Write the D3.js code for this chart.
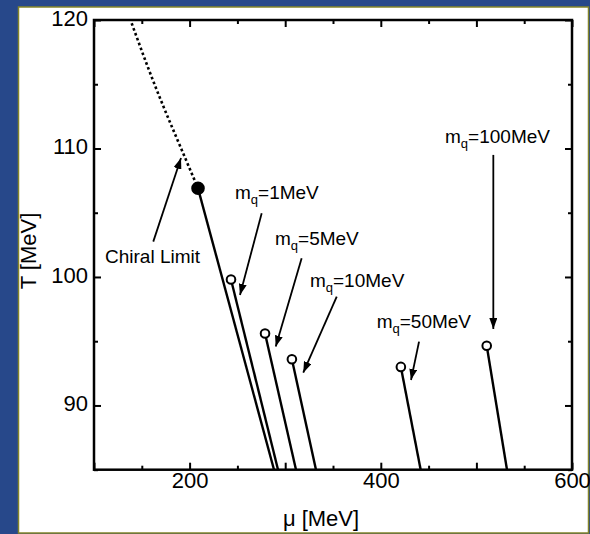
<!DOCTYPE html>
<html>
<head>
<meta charset="utf-8">
<script src="https://cdn.jsdelivr.net/npm/d3@7"></script>
<style>
  body { margin: 0; padding: 0; background: #fff; }
  svg { display: block; font-family: "Liberation Sans", Arial, Helvetica, sans-serif; }
</style>
</head>
<body>
<svg id="chart"></svg>
<script>
// critical line in the chiral limit (dotted, 2nd order part)
var chiralMu = [139.4, 156, 173, 190, 208.8];
var chiralT  = [119.75, 116.4, 113.2, 110.2, 106.9];

// first order lines: critical end point -> lower edge of plot
var massLabels = ["0", "1", "5", "10", "50", "100"];
var cepMu = [208.8, 243.3, 278.9, 307, 421, 510.8];
var cepT  = [106.9, 99.8, 95.6, 93.6, 93.0, 94.65];
var endMu = [288.3, 292.5, 311.3, 332.2, 441.7, 532];
var endT  = [85, 85, 85, 85, 85, 85];

// annotation arrows (tail -> head) and text anchors, in data units
var noteText   = ["Chiral Limit", "1MeV", "5MeV", "10MeV", "50MeV", "100MeV"];
var noteTextMu = [111.5, 247.5, 289.3, 325.9, 395.7, 467.2];
var noteTextT  = [101.1, 106.1, 102.5, 99.25, 96.0, 110.4];
var arrowFromMu = [162, 275.4, 317.2, 353.9, 440, 517.7];
var arrowFromT  = [102.75, 104.96, 101.45, 98.47, 94.97, 109.5];
var arrowToMu   = [191, 252.7, 290.1, 318.9, 431.6, 517.7];
var arrowToT    = [109.26, 98.6, 94.58, 92.55, 91.98, 95.95];

// ticks
var muMajor = [100, 200, 300, 400, 500, 600];
var muMinor = [150, 250, 350, 450, 550];
var muLabels = [200, 400, 600];
var tMajor = [90, 100, 110, 120];
var tMinor = [85, 95, 105, 115];

var W = 590, H = 534;
var plotL = 94, plotR = 572, plotT = 20, plotB = 469.7;

var svg = d3.select("#chart").attr("width", W).attr("height", H);

// slide frame
svg.append("rect").attr("x", 0).attr("y", 0).attr("width", W).attr("height", H).attr("fill", "#27488a");
svg.append("rect").attr("x", 18.5).attr("y", 7).attr("width", 570).attr("height", 526)
    .attr("fill", "#fff").attr("stroke", "#85852a").attr("stroke-width", 1.5);

var x = d3.scaleLinear().domain([100, 600]).range([plotL, plotR]);
var y = d3.scaleLinear().domain([85, 120]).range([plotB, plotT]);

var fs = 22;

function styleAxis(g) {
  g.select(".domain").remove();
  g.selectAll(".tick line").attr("stroke", "#000").attr("stroke-width", 2);
}

// bottom axis
var gb = svg.append("g").attr("transform", "translate(0," + plotB + ")")
    .call(d3.axisBottom(x).tickValues(muMajor).tickSize(-7)
      .tickFormat(function(d) { return muLabels.indexOf(d) >= 0 ? d : ""; }));
styleAxis(gb);
gb.attr("font-size", fs).attr("font-family", null);
gb.selectAll("text").attr("y", 18).attr("dy", null).attr("fill", "#000");
svg.append("g").attr("transform", "translate(0," + plotB + ")")
    .call(d3.axisBottom(x).tickValues(muMinor).tickSize(-4).tickFormat(""))
    .call(styleAxis);

// top axis
svg.append("g").attr("transform", "translate(0," + plotT + ")")
    .call(d3.axisTop(x).tickValues(muMajor).tickSize(-7).tickFormat(""))
    .call(styleAxis);
svg.append("g").attr("transform", "translate(0," + plotT + ")")
    .call(d3.axisTop(x).tickValues(muMinor).tickSize(-4).tickFormat(""))
    .call(styleAxis);

// left axis
var gl = svg.append("g").attr("transform", "translate(" + plotL + ",0)")
    .call(d3.axisLeft(y).tickValues(tMajor).tickSize(-7).tickPadding(6));
styleAxis(gl);
gl.attr("font-size", fs).attr("font-family", null);
gl.selectAll("text").attr("dy", "0.24em").attr("fill", "#000");
svg.append("g").attr("transform", "translate(" + plotL + ",0)")
    .call(d3.axisLeft(y).tickValues(tMinor).tickSize(-4).tickFormat(""))
    .call(styleAxis);

// right axis
svg.append("g").attr("transform", "translate(" + plotR + ",0)")
    .call(d3.axisRight(y).tickValues(tMajor).tickSize(-7).tickFormat(""))
    .call(styleAxis);
svg.append("g").attr("transform", "translate(" + plotR + ",0)")
    .call(d3.axisRight(y).tickValues(tMinor).tickSize(-4).tickFormat(""))
    .call(styleAxis);

// frame
svg.append("rect").attr("x", plotL).attr("y", plotT)
    .attr("width", plotR - plotL).attr("height", plotB - plotT)
    .attr("fill", "none").attr("stroke", "#000").attr("stroke-width", 2.5);

// axis titles
svg.append("text").attr("transform", "translate(36,251) rotate(-90)")
    .attr("text-anchor", "middle").attr("font-size", fs).text("T [MeV]");
svg.append("text").attr("x", 321).attr("y", 526)
    .attr("text-anchor", "middle").attr("font-size", fs).text("\u03bc [MeV]");

// dotted chiral line
var chiralData = chiralMu.map(function(m, i) { return { mu: m, t: chiralT[i] }; });
var line = d3.line().x(function(d) { return x(d.mu); }).y(function(d) { return y(d.t); })
    .curve(d3.curveNatural);
svg.append("path").datum(chiralData)
    .attr("fill", "none").attr("stroke", "#000").attr("stroke-width", 2.6)
    .attr("stroke-dasharray", "2.6,2.6").attr("d", line);

// first order lines
var lines = massLabels.map(function(m, i) {
  return { m: m, mu0: cepMu[i], t0: cepT[i], mu1: endMu[i], t1: endT[i] };
});
svg.selectAll(".fo").data(lines).enter().append("line")
    .attr("x1", function(d) { return x(d.mu0); }).attr("y1", function(d) { return y(d.t0); })
    .attr("x2", function(d) { return x(d.mu1); }).attr("y2", function(d) { return y(d.t1); })
    .attr("stroke", "#000").attr("stroke-width", 2.4);

// end points
svg.selectAll(".cep").data(lines).enter().append("circle")
    .attr("cx", function(d) { return x(d.mu0); }).attr("cy", function(d) { return y(d.t0); })
    .attr("r", function(d) { return d.m === "0" ? 5.8 : 4.3; })
    .attr("fill", function(d) { return d.m === "0" ? "#000" : "#fff"; })
    .attr("stroke", "#000").attr("stroke-width", 2);

// arrows
svg.append("defs").append("marker")
    .attr("id", "ah").attr("markerUnits", "userSpaceOnUse")
    .attr("markerWidth", 12).attr("markerHeight", 8)
    .attr("refX", 11).attr("refY", 4).attr("orient", "auto")
  .append("path").attr("d", "M0,0 L11,4 L0,8 Z").attr("fill", "#000");

var notes = noteText.map(function(t, i) {
  return { text: t, tx: noteTextMu[i], ty: noteTextT[i],
           ax0: arrowFromMu[i], ay0: arrowFromT[i], ax1: arrowToMu[i], ay1: arrowToT[i] };
});
svg.selectAll(".arrow").data(notes).enter().append("line")
    .attr("x1", function(d) { return x(d.ax0); }).attr("y1", function(d) { return y(d.ay0); })
    .attr("x2", function(d) { return x(d.ax1); }).attr("y2", function(d) { return y(d.ay1); })
    .attr("stroke", "#000").attr("stroke-width", 1.8).attr("marker-end", "url(#ah)");

var labels = svg.selectAll(".note").data(notes).enter().append("text")
    .attr("x", function(d) { return x(d.tx); }).attr("y", function(d) { return y(d.ty); })
    .attr("font-size", 19);
labels.each(function(d, i) {
  var t = d3.select(this);
  if (i === 0) { t.text(d.text); return; }
  t.append("tspan").text("m");
  t.append("tspan").attr("font-size", 13).attr("dy", 5).text("q");
  t.append("tspan").attr("dy", -5).text("=" + d.text);
});
</script>
</body>
</html>
